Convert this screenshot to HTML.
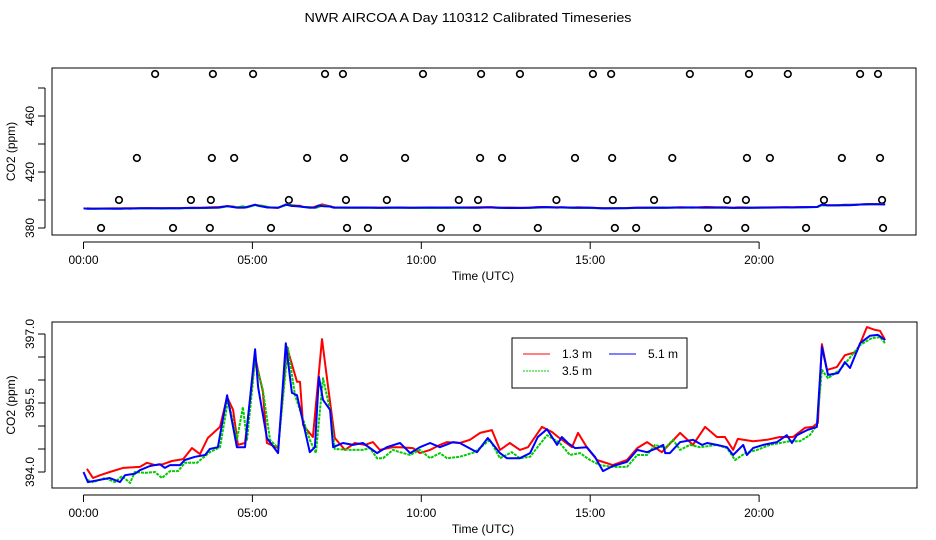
<!DOCTYPE html>
<html><head><meta charset="utf-8"><style>
html,body{margin:0;padding:0;background:#fff;}
svg{display:block;font-family:"Liberation Sans",sans-serif;}
</style></head><body>
<svg id="chart" width="936" height="540" viewBox="0 0 936 540">
<text x="468" y="22" text-anchor="middle" font-size="12.5" textLength="327" lengthAdjust="spacingAndGlyphs">NWR AIRCOA A  Day 110312  Calibrated Timeseries</text>
<g id="topPanel"></g>
<g id="botPanel"></g>
</svg>
<script>
// time ticks (hours)
const timeTicks = [0, 5, 10, 15, 20];
const timeTickLabels = ["00:00", "05:00", "10:00", "15:00", "20:00"];
// top panel ticks
const topTicks = [380, 400, 420, 440, 460, 480];
const topTickLabels = ["380", "", "420", "", "460", ""];
// bottom panel ticks
const botTicks = [394.0, 394.5, 395.0, 395.5, 396.0, 396.5, 397.0];
const botTickLabels = ["394.0", "", "", "395.5", "", "", "397.0"];

// flag points (circles) on top panel
const flagTimes = [2.12,3.83,5.02,7.15,7.68,10.05,11.77,12.92,15.08,15.62,17.95,19.70,20.85,22.99,23.52,
 1.58,3.80,4.46,6.62,7.71,9.52,11.74,12.39,14.55,15.65,17.43,19.64,20.32,22.45,23.58,
 1.05,3.18,3.77,6.08,7.77,8.98,11.11,11.68,14.00,15.67,16.89,19.05,19.61,21.92,23.64,
 0.52,2.65,3.74,5.55,7.80,8.42,10.58,11.65,13.45,15.73,16.36,18.49,19.59,21.39,23.67];
const flagValues = [490,490,490,490,490,490,490,490,490,490,490,490,490,490,490,
 430,430,430,430,430,430,430,430,430,430,430,430,430,430,430,
 400,400,400,400,400,400,400,400,400,400,400,400,400,400,400,
 380,380,380,380,380,380,380,380,380,380,380,380,380,380,380];

// 1.3 m (red)
const redTimes = [0.10,0.28,0.49,0.78,1.17,1.67,1.88,2.12,2.35,2.62,2.95,3.21,3.45,3.68,4.04,4.25,4.43,4.57,4.78,5.08,5.31,5.43,5.76,6.02,6.32,6.41,6.50,6.79,7.06,7.24,7.44,7.74,8.03,8.33,8.57,8.77,9.16,9.37,9.75,9.96,10.26,10.55,10.76,11.14,11.44,11.74,12.09,12.33,12.62,12.92,13.16,13.57,13.87,14.05,14.46,14.64,14.90,15.20,15.67,16.09,16.39,16.68,17.12,17.66,18.04,18.40,18.75,18.99,19.23,19.37,19.82,20.23,20.62,21.00,21.36,21.59,21.74,21.86,22.01,22.30,22.54,22.89,23.19,23.43,23.58,23.73];
const redValues = [394.07,393.87,393.93,394.00,394.09,394.11,394.20,394.15,394.17,394.24,394.28,394.52,394.39,394.74,394.98,395.63,395.35,394.59,394.63,396.50,395.74,394.63,394.52,396.72,395.96,395.96,395.02,394.76,396.89,395.85,394.74,394.48,394.63,394.59,394.65,394.48,394.54,394.54,394.52,394.41,394.48,394.59,394.65,394.63,394.70,394.85,394.91,394.48,394.63,394.48,394.54,394.98,394.87,394.76,394.54,394.85,394.54,394.26,394.15,394.26,394.52,394.65,394.43,394.85,394.59,394.98,394.76,394.76,394.48,394.72,394.67,394.70,394.76,394.76,394.96,394.98,395.07,396.78,396.22,396.28,396.54,396.61,397.15,397.09,397.07,396.87];

// 3.5 m (green)
const greenTimes = [0.10,0.28,0.64,0.93,1.14,1.38,1.52,1.82,2.12,2.32,2.56,2.80,3.00,3.36,3.74,4.04,4.28,4.54,4.72,4.84,5.08,5.31,5.52,5.76,6.05,6.26,6.70,6.88,7.09,7.30,7.44,7.89,8.27,8.48,8.69,8.87,9.16,9.37,9.67,9.96,10.26,10.55,10.76,11.14,11.58,12.03,12.33,12.68,12.92,13.22,13.42,13.72,13.95,14.10,14.40,14.70,14.99,15.29,15.67,16.09,16.39,16.68,16.92,17.22,17.45,17.66,17.95,18.25,18.75,19.05,19.29,19.59,19.94,20.32,20.62,20.91,21.21,21.50,21.71,21.86,22.04,22.39,22.63,22.99,23.34,23.58,23.73];
const greenValues = [393.83,393.78,393.87,393.78,393.91,393.76,394.00,393.98,394.00,393.87,394.02,394.02,394.20,394.20,394.43,394.54,395.57,394.70,395.41,394.70,396.43,395.78,394.70,394.52,396.70,395.67,394.70,394.41,396.04,395.35,394.50,394.48,394.48,394.52,394.30,394.30,394.48,394.43,394.37,394.48,394.30,394.41,394.30,394.33,394.43,394.70,394.30,394.43,394.30,394.33,394.52,394.80,394.70,394.63,394.37,394.41,394.26,394.15,394.11,394.11,394.37,394.37,394.59,394.52,394.70,394.48,394.59,394.54,394.59,394.52,394.26,394.41,394.48,394.59,394.63,394.67,394.67,394.80,395.02,396.22,396.04,396.22,396.43,396.76,396.91,396.93,396.80];

// 5.1 m (blue)
const blueTimes = [0.00,0.13,0.49,0.78,1.08,1.23,1.52,1.67,1.97,2.26,2.41,2.56,2.86,3.00,3.30,3.60,3.74,3.98,4.25,4.54,4.78,5.08,5.17,5.43,5.76,5.99,6.17,6.32,6.70,6.85,6.97,7.09,7.30,7.39,7.68,7.98,8.27,8.69,8.98,9.37,9.67,9.96,10.26,10.55,10.94,11.14,11.65,11.97,12.33,12.53,12.92,13.22,13.45,13.72,14.02,14.16,14.34,14.55,14.90,15.14,15.38,15.67,16.09,16.39,16.68,16.98,17.16,17.22,17.36,17.66,18.04,18.31,18.46,18.75,19.05,19.23,19.53,19.64,19.82,20.12,20.53,20.82,20.97,21.12,21.42,21.71,21.86,22.04,22.34,22.54,22.69,22.99,23.28,23.52,23.73];
const blueValues = [394.00,393.78,393.83,393.87,393.78,393.93,393.96,394.04,394.13,394.17,394.09,394.15,394.15,394.26,394.33,394.37,394.50,394.54,395.67,394.54,394.54,396.67,395.85,394.74,394.41,396.80,395.72,395.67,394.43,394.54,396.07,395.57,395.35,394.54,394.63,394.59,394.63,394.41,394.54,394.63,394.41,394.54,394.63,394.54,394.65,394.63,394.43,394.74,394.41,394.30,394.30,394.41,394.76,394.93,394.59,394.76,394.63,394.52,394.54,394.33,394.02,394.13,394.22,394.48,394.43,394.52,394.59,394.41,394.41,394.65,394.70,394.59,394.63,394.59,394.54,394.37,394.59,394.37,394.52,394.59,394.65,394.80,394.63,394.80,394.91,394.98,396.72,396.11,396.15,396.39,396.26,396.80,396.96,396.98,396.87];

const NS = "http://www.w3.org/2000/svg";
function mk(tag, attrs, parent) {
  const e = document.createElementNS(NS, tag);
  for (const k in attrs) e.setAttribute(k, attrs[k]);
  parent.appendChild(e);
  return e;
}
const X0 = 83.5, XH = 33.78;
function xs(t) { return X0 + t * XH; }
function yTop(v) { return 228 - (v - 380) * 1.4; }
function yBot(v) { return 472 - (v - 394) * 46; }

function panel(g, box, yFn, ticks, labels, axisY, name) {
  const r = mk("rect", {x: box[0], y: box[1], width: box[2]-box[0], height: box[3]-box[1], fill: "none", stroke: "#000", "stroke-width": 1}, g);
  
  
  const xa = mk("g", {}, g);
  
  
  mk("line", {x1: xs(timeTicks[0]), x2: xs(timeTicks[timeTicks.length-1]), y1: axisY, y2: axisY, stroke: "#000"}, xa);
  timeTicks.forEach((t, i) => {
    mk("line", {x1: xs(t), x2: xs(t), y1: axisY, y2: axisY + 7, stroke: "#000"}, xa);
    const tx = mk("text", {x: xs(t), y: axisY + 22, "text-anchor": "middle", "font-size": 12}, xa);
    tx.textContent = timeTickLabels[i];
    
    
  });
  const xt = mk("text", {x: 483, y: axisY + 38, "text-anchor": "middle", "font-size": 12}, xa);
  xt.textContent = "Time (UTC)";
  
  
  const ya = mk("g", {}, g);
  
  
  const ax = box[0] - 7;
  mk("line", {x1: ax, x2: ax, y1: yFn(ticks[0]), y2: yFn(ticks[ticks.length-1]), stroke: "#000"}, ya);
  ticks.forEach((v, i) => {
    const y = yFn(v);
    mk("line", {x1: ax - 7, x2: ax, y1: y, y2: y, stroke: "#000"}, ya);
    if (labels[i]) {
      const tx = mk("text", {x: 0, y: 0, "text-anchor": "middle", "font-size": 12, transform: `translate(${ax - 11},${y}) rotate(-90)`}, ya);
      tx.textContent = labels[i];
      
      
    }
  });
  const cy = (box[1] + box[3]) / 2;
  const yt = mk("text", {x: 0, y: 0, "text-anchor": "middle", "font-size": 12, transform: `translate(15,${cy}) rotate(-90)`}, ya);
  yt.textContent = "CO2 (ppm)";
  
  
}

function series(g, times, vals, yFn, color, name, dash) {
  const n = Math.min(times.length, vals.length);
  const arr = [];
  for (let i = 0; i < n; i++) arr.push(xs(times[i]).toFixed(1) + "," + yFn(vals[i]).toFixed(1));
  const attrs = {points: arr.join(" "), fill: "none", stroke: color, "stroke-width": 2, "stroke-linejoin": "round"};
  if (dash) attrs["stroke-dasharray"] = dash;
  const p = mk("polyline", attrs, g);
  
  
}

const topG = document.getElementById("topPanel");
const botG = document.getElementById("botPanel");
panel(topG, [52, 68, 916, 235], yTop, topTicks, topTickLabels, 242, "top");
panel(botG, [52, 322, 917, 488], yBot, botTicks, botTickLabels, 495, "bottom");

flagTimes.forEach((t, i) => {
  const c = mk("circle", {cx: xs(t), cy: yTop(flagValues[i]), r: 3.3, fill: "none", stroke: "#000", "stroke-width": 1.6}, topG);
  
  
});
series(topG, redTimes, redValues, yTop, "#ff0000", "top-line-1-3m");
series(topG, greenTimes, greenValues, yTop, "#00cc00", "top-line-3-5m");
series(topG, blueTimes, blueValues, yTop, "#0000ff", "top-line-5-1m");

series(botG, redTimes, redValues, yBot, "#ff0000", "line-1-3m");
series(botG, greenTimes, greenValues, yBot, "#00cc00", "line-3-5m", "3,1");
series(botG, blueTimes, blueValues, yBot, "#0000ff", "line-5-1m");

const lg = mk("g", {}, botG);


mk("rect", {x: 512, y: 338, width: 175, height: 50, fill: "#fff", stroke: "#000"}, lg);
const entries = [["1.3 m", "#ff0000", 523, 354, null], ["5.1 m", "#0000ff", 609, 354, null], ["3.5 m", "#00cc00", 523, 371, "2,1"]];
entries.forEach(e => {
  const eg = mk("g", {}, lg);
  
  
  const la = {x1: e[2], x2: e[2] + 27, y1: e[3], y2: e[3], stroke: e[1], "stroke-width": 1};
  if (e[4]) la["stroke-dasharray"] = e[4];
  mk("line", la, eg);
  const tx = mk("text", {x: e[2] + 39, y: e[3] + 4, "font-size": 12}, eg);
  tx.textContent = e[0];
});
</script>
</body></html>
